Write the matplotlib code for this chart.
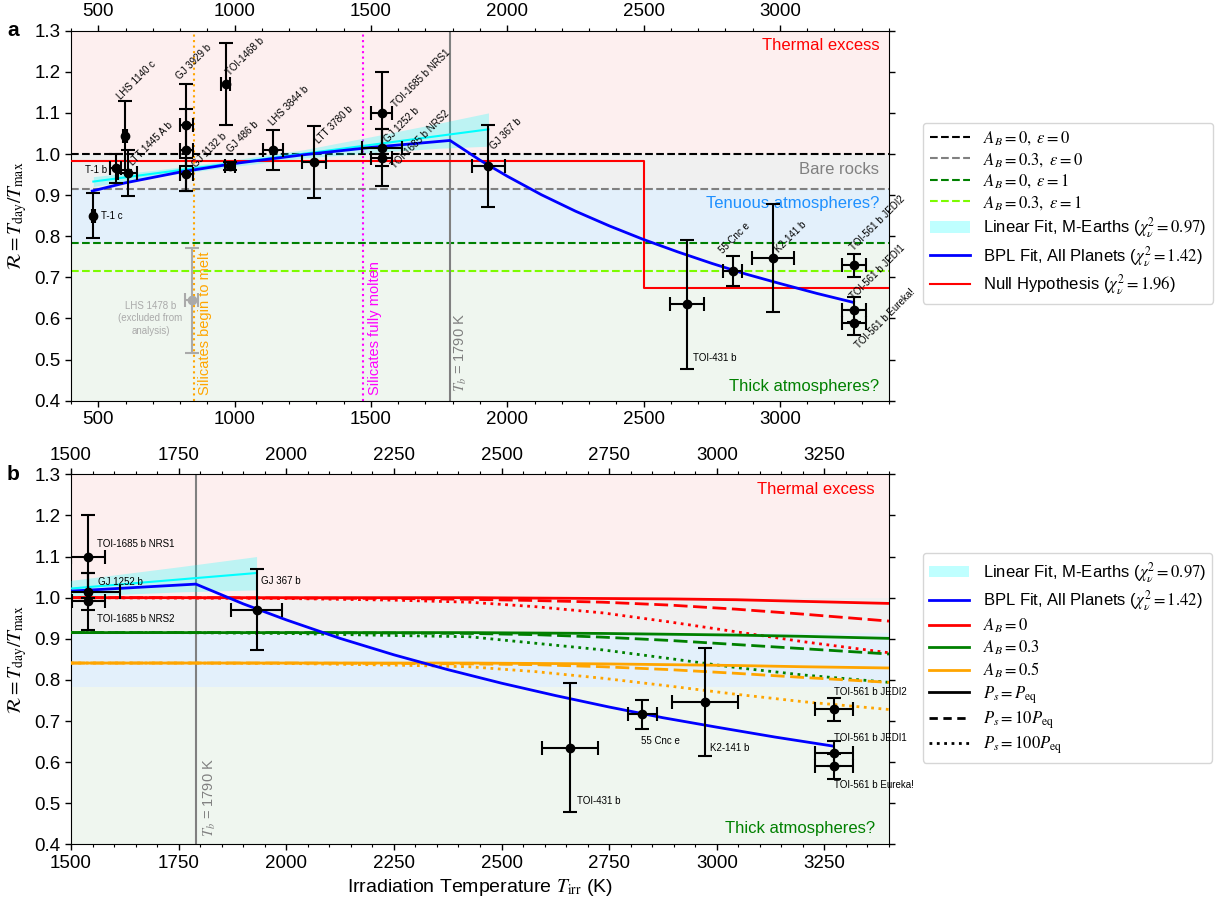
import numpy as np
import matplotlib.pyplot as plt
from matplotlib.patches import Patch
from matplotlib.lines import Line2D

plt.rcParams['font.family'] = ['Liberation Sans', 'DejaVu Sans']
plt.rcParams['mathtext.fontset'] = 'stix'

## data ##

names = ['T-1 c', 'T-1 b', 'LHS 1140 c', 'LTT 1445 A b', 'GJ 3929 b', '', 'GJ 1132 b',
         'TOI-1468 b', 'GJ 486 b', 'LHS 3844 b', 'LTT 3780 b', 'TOI-1685 b NRS1',
         'GJ 1252 b', 'TOI-1685 b NRS2', 'GJ 367 b', 'TOI-431 b', '55 Cnc e', 'K2-141 b',
         'TOI-561 b JEDI2', 'TOI-561 b JEDI1', 'TOI-561 b Eureka!']
t_irr = [482, 564, 598, 608, 823, 823, 823, 967, 983, 1140, 1291, 1540,
         1540, 1540, 1931, 2659, 2827, 2973, 3272, 3272, 3272]
t_irr_err = [6, 21, 6, 35, 24, 24, 24, 17, 18, 37, 44, 39,
             73, 38, 60, 64, 34, 77, 44, 44, 44]
ratio = [0.850, 0.965, 1.045, 0.953, 1.071, 1.010, 0.951, 1.170, 0.971, 1.009, 0.981, 1.100,
         1.015, 0.991, 0.971, 0.635, 0.716, 0.747, 0.729, 0.621, 0.590]
ratio_err = [0.054, 0.035, 0.084, 0.056, 0.099, 0.100, 0.040, 0.099, 0.010, 0.049, 0.088, 0.100,
             0.045, 0.070, 0.099, 0.157, 0.036, 0.131, 0.028, 0.030, 0.030]

# excluded planet
lhs1478 = dict(t=842, t_err=24, r=0.644, r_err=0.128)

# reference levels
r_ab0_e0 = 1.0
r_ab03_e0 = 0.915
r_ab0_e1 = 0.7825
r_ab03_e1 = 0.716
t_melt_begin = 850
t_melt_full = 1470
t_break = 1790

# linear fit (M-Earths) and its band
lin_x = [482, 1931]
lin_y = [0.933, 1.060]
band_x = [482, 700, 1000, 1250, 1500, 1750, 1931]
band_lo = [0.921, 0.944, 0.970, 0.990, 1.003, 1.014, 1.019]
band_hi = [0.945, 0.960, 0.986, 1.010, 1.042, 1.075, 1.100]

# broken power law fit
bpl_x = [478, 600, 800, 1000, 1250, 1500, 1790, 1900, 2000, 2125, 2250, 2375, 2500,
         2625, 2750, 2875, 3000, 3135, 3270]
bpl_y = [0.910, 0.930, 0.956, 0.977, 0.998, 1.016, 1.033, 0.985, 0.946, 0.901, 0.861, 0.825, 0.792,
         0.762, 0.734, 0.708, 0.685, 0.661, 0.639]

# null hypothesis step
null_x = [400, 2500, 3400]
null_y = [0.983, 0.673, 0.673]

# panel b model curves
mod_x = [1500, 1750, 2000, 2250, 2425, 2580, 2735, 2890, 3045, 3200, 3400]
ab0_p1 = [1.000, 1.000, 1.000, 1.000, 1.000, 0.999, 0.998, 0.997, 0.995, 0.991, 0.986]
ab0_p10 = [1.000, 1.000, 0.999, 0.998, 0.996, 0.993, 0.989, 0.982, 0.972, 0.960, 0.943]
ab0_p100 = [1.000, 0.999, 0.998, 0.994, 0.989, 0.978, 0.963, 0.941, 0.917, 0.893, 0.866]
ab03_p1 = [0.915, 0.915, 0.915, 0.915, 0.915, 0.914, 0.913, 0.911, 0.909, 0.906, 0.901]
ab03_p10 = [0.915, 0.915, 0.915, 0.914, 0.913, 0.910, 0.904, 0.896, 0.886, 0.876, 0.863]
ab03_p100 = [0.915, 0.915, 0.913, 0.908, 0.905, 0.889, 0.873, 0.852, 0.830, 0.812, 0.794]
ab05_p1 = [0.841, 0.841, 0.841, 0.841, 0.841, 0.840, 0.839, 0.837, 0.835, 0.832, 0.829]
ab05_p10 = [0.841, 0.841, 0.841, 0.840, 0.839, 0.837, 0.832, 0.825, 0.816, 0.806, 0.794]
ab05_p100 = [0.841, 0.841, 0.840, 0.836, 0.832, 0.820, 0.804, 0.785, 0.765, 0.747, 0.728]

# label placement: (dx px, dy px, rotation, ha, va)
lab_a = {'T-1 c': (8, 0, 0, 'left', 'center'), 'T-1 b': (-9, -2, 0, 'right', 'center'),
         'LHS 1140 c': (-4, 36, 45), 'LTT 1445 A b': (5, 7, 45), 'GJ 3929 b': (-6, 45, 45),
         'GJ 1132 b': (10, 6, 45), 'TOI-1468 b': (4, 8, 45), 'GJ 486 b': (1, 13, 45),
         'LHS 3844 b': (0, 24, 45), 'LTT 3780 b': (5, 18, 45), 'TOI-1685 b NRS1': (14, 5, 45),
         'GJ 1252 b': (6, 5, 45), 'TOI-1685 b NRS2': (13, -11, 45), 'GJ 367 b': (6, 16, 45),
         'TOI-431 b': (6, -54, 0, 'left', 'center'), '55 Cnc e': (-10, 17, 45),
         'K2-141 b': (6, 5, 45), 'TOI-561 b JEDI2': (0, 14, 45), 'TOI-561 b JEDI1': (0, 10, 45),
         'TOI-561 b Eureka!': (5, -26, 45)}
lab_b = {'TOI-1685 b NRS1': (9, 13), 'GJ 1252 b': (10, 10), 'TOI-1685 b NRS2': (9, -18),
         'GJ 367 b': (4, 29), 'TOI-431 b': (7, -53), '55 Cnc e': (-1, -27), 'K2-141 b': (5, -46),
         'TOI-561 b JEDI2': (0, 17), 'TOI-561 b JEDI1': (0, 15), 'TOI-561 b Eureka!': (0, -19)}

ylab = r'$\mathcal{R} = T_{\rm day}/T_{\rm max}$'


def shade(ax):
    ax.axhspan(1.0, 1.3, color='#fdefef', zorder=0, lw=0)
    ax.axhspan(r_ab03_e0, 1.0, color='#f0f0f0', zorder=0, lw=0)
    ax.axhspan(r_ab0_e1, r_ab03_e0, color='#e3f0fb', zorder=0, lw=0)
    ax.axhspan(0.4, r_ab0_e1, color='#eff6ef', zorder=0, lw=0)


def style(ax, xlim, major, minor):
    ax.set_xlim(*xlim)
    ax.set_ylim(0.4, 1.3)
    ax.set_yticks(np.arange(0.4, 1.31, 0.1))
    ax.set_yticklabels(['%.1f' % v for v in np.arange(0.4, 1.31, 0.1)])
    ax.set_xticks(np.arange(major[0], xlim[1] + 1, major[1]))
    ax.set_xticks(np.arange(minor[0], xlim[1] + 1, minor[1]), minor=True)
    ax.tick_params(top=True, right=True, labeltop=True, labelsize=13.5, width=1, length=4)
    ax.tick_params(which='minor', top=True, length=2.5, width=0.8)
    ax.set_ylabel(ylab, fontsize=14)


fig = plt.figure(figsize=(12.22, 8.97), dpi=100)
ax1 = fig.add_axes([0.0581, 0.5533, 0.6694, 0.4125])
ax2 = fig.add_axes([0.0581, 0.0587, 0.6694, 0.4125])

## panel a ##
shade(ax1)
ax1.axhline(r_ab0_e0, color='black', ls='--', lw=1.5, zorder=2)
ax1.axhline(r_ab03_e0, color='gray', ls='--', lw=1.5, zorder=2)
ax1.axhline(r_ab0_e1, color='green', ls='--', lw=1.5, zorder=2)
ax1.axhline(r_ab03_e1, color='#7cfc00', ls='--', lw=1.5, zorder=2)
ax1.axvline(t_melt_begin, color='orange', ls=':', lw=1.5, zorder=2)
ax1.axvline(t_melt_full, color='magenta', ls=':', lw=1.5, zorder=2)
ax1.axvline(t_break, color='gray', lw=1.5, zorder=2)
ax1.fill_between(band_x, band_lo, band_hi, color='cyan', alpha=0.25, lw=0, zorder=3)
ax1.plot(lin_x, lin_y, color='cyan', lw=1.5, zorder=3)
ax1.plot(bpl_x, bpl_y, color='blue', lw=2, zorder=4)
ax1.plot(null_x, null_y, color='red', lw=1.5, drawstyle='steps-post', zorder=3)

ax1.errorbar(t_irr, ratio, xerr=t_irr_err, yerr=ratio_err, fmt='o', color='black', ms=6,
             elinewidth=1.5, capsize=5, capthick=1.5, zorder=5)
ax1.errorbar(lhs1478['t'], lhs1478['r'], xerr=lhs1478['t_err'], yerr=lhs1478['r_err'], fmt='o',
             color='#aaaaaa', ms=6, elinewidth=1.5, capsize=5, capthick=1.5, zorder=5)
ax1.annotate('LHS 1478 b\n(excluded from\nanalysis)', (lhs1478['t'], lhs1478['r']),
             xytext=(-41, -18), textcoords='offset pixels', ha='center', va='center',
             fontsize=7, color='#aaaaaa', linespacing=1.3)

for n, x, y in zip(names, t_irr, ratio):
    if n not in lab_a:
        continue
    p = lab_a[n]
    if p[2] == 0:
        ax1.annotate(n, (x, y), xytext=(p[0], p[1]), textcoords='offset pixels',
                     ha=p[3], va=p[4], fontsize=7, zorder=6)
    else:
        ax1.annotate(n, (x, y), xytext=(p[0], p[1]), textcoords='offset pixels',
                     ha='left', va='baseline', rotation=45, rotation_mode='anchor',
                     fontsize=7, zorder=6)

ax1.text(865, 0.415, 'Silicates begin to melt', rotation=90, color='orange', fontsize=10.5,
         ha='left', va='bottom')
ax1.text(1488, 0.415, 'Silicates fully molten', rotation=90, color='magenta', fontsize=10.5,
         ha='left', va='bottom')
ax1.text(1800, 0.42, r'$T_b$ = 1790 K', rotation=90, color='gray', fontsize=10.5,
         ha='left', va='bottom')

ax1.text(0.988, 1.263, 'Thermal excess', transform=ax1.get_yaxis_transform(), color='red',
         fontsize=12, ha='right', va='center')
ax1.text(0.988, 0.963, 'Bare rocks', transform=ax1.get_yaxis_transform(), color='gray',
         fontsize=12, ha='right', va='center')
ax1.text(0.988, 0.880, 'Tenuous atmospheres?', transform=ax1.get_yaxis_transform(),
         color='#1e90ff', fontsize=12, ha='right', va='center')
ax1.text(0.988, 0.435, 'Thick atmospheres?', transform=ax1.get_yaxis_transform(),
         color='green', fontsize=12, ha='right', va='center')

style(ax1, (400, 3400), (500, 500), (400, 100))

h1 = [Line2D([], [], color='black', ls='--', lw=1.5),
      Line2D([], [], color='gray', ls='--', lw=1.5),
      Line2D([], [], color='green', ls='--', lw=1.5),
      Line2D([], [], color='#7cfc00', ls='--', lw=1.5),
      Patch(color='cyan', alpha=0.25, lw=0),
      Line2D([], [], color='blue', lw=2),
      Line2D([], [], color='red', lw=1.5)]
l1 = [r'$A_B = 0,\ \varepsilon = 0$', r'$A_B = 0.3,\ \varepsilon = 0$',
      r'$A_B = 0,\ \varepsilon = 1$', r'$A_B = 0.3,\ \varepsilon = 1$',
      r'Linear Fit, M-Earths ($\chi^2_\nu = 0.97$)',
      r'BPL Fit, All Planets ($\chi^2_\nu = 1.42$)',
      r'Null Hypothesis ($\chi^2_\nu = 1.96$)']
ax1.legend(h1, l1, loc='upper left', bbox_to_anchor=(1.0416, 0.7514), borderaxespad=0,
           fontsize=12, labelspacing=0.22, handlelength=2.4)

## panel b ##
shade(ax2)
ax2.axvline(t_break, color='gray', lw=1.5, zorder=2)
ax2.fill_between(band_x, band_lo, band_hi, color='cyan', alpha=0.25, lw=0, zorder=3)
ax2.plot(lin_x, lin_y, color='cyan', lw=1.5, zorder=3)
ax2.plot(bpl_x, bpl_y, color='blue', lw=2, zorder=4)

for ys, c in [((ab0_p1, ab0_p10, ab0_p100), 'red'),
              ((ab03_p1, ab03_p10, ab03_p100), 'green'),
              ((ab05_p1, ab05_p10, ab05_p100), 'orange')]:
    ax2.plot(mod_x, ys[0], color=c, lw=2, ls='-', zorder=3)
    ax2.plot(mod_x, ys[1], color=c, lw=2, ls='--', dashes=(5, 2), zorder=3)
    ax2.plot(mod_x, ys[2], color=c, lw=2, ls=':', zorder=3)

sel = [i for i, x in enumerate(t_irr) if x >= 1500]
ax2.errorbar([t_irr[i] for i in sel], [ratio[i] for i in sel],
             xerr=[t_irr_err[i] for i in sel], yerr=[ratio_err[i] for i in sel],
             fmt='o', color='black', ms=6, elinewidth=1.5, capsize=5, capthick=1.5, zorder=5)
for i in sel:
    p = lab_b[names[i]]
    ax2.annotate(names[i], (t_irr[i], ratio[i]), xytext=p, textcoords='offset pixels',
                 ha='left', va='center', fontsize=7, zorder=6)

ax2.text(1804, 0.418, r'$T_b$ = 1790 K', rotation=90, color='gray', fontsize=10.5,
         ha='left', va='bottom')
ax2.text(0.9825, 1.263, 'Thermal excess', transform=ax2.get_yaxis_transform(), color='red',
         fontsize=12, ha='right', va='center')
ax2.text(0.9825, 0.439, 'Thick atmospheres?', transform=ax2.get_yaxis_transform(),
         color='green', fontsize=12, ha='right', va='center')

style(ax2, (1500, 3400), (1500, 250), (1500, 50))
ax2.set_xlabel(r'Irradiation Temperature $T_{\rm irr}$ (K)', fontsize=14)

h2 = [Patch(color='cyan', alpha=0.25, lw=0),
      Line2D([], [], color='blue', lw=2),
      Line2D([], [], color='red', lw=2),
      Line2D([], [], color='green', lw=2),
      Line2D([], [], color='orange', lw=2),
      Line2D([], [], color='black', lw=2),
      Line2D([], [], color='black', lw=2, ls='--', dashes=(3, 2)),
      Line2D([], [], color='black', lw=2, ls=':')]
l2 = [r'Linear Fit, M-Earths ($\chi^2_\nu = 0.97$)',
      r'BPL Fit, All Planets ($\chi^2_\nu = 1.42$)',
      r'$A_B = 0$', r'$A_B = 0.3$', r'$A_B = 0.5$',
      r'$P_s = P_{\rm eq}$', r'$P_s = 10P_{\rm eq}$', r'$P_s = 100P_{\rm eq}$']
ax2.legend(h2, l2, loc='upper left', bbox_to_anchor=(1.041, 0.787), borderaxespad=0,
           fontsize=12, labelspacing=0.22, handlelength=2.4)

fig.text(0.0106, 0.9658, 'a', fontsize=15, fontweight='bold', ha='center', va='center')
fig.text(0.0106, 0.4712, 'b', fontsize=15, fontweight='bold', ha='center', va='center')

fig.savefig('out.png', dpi=100)
